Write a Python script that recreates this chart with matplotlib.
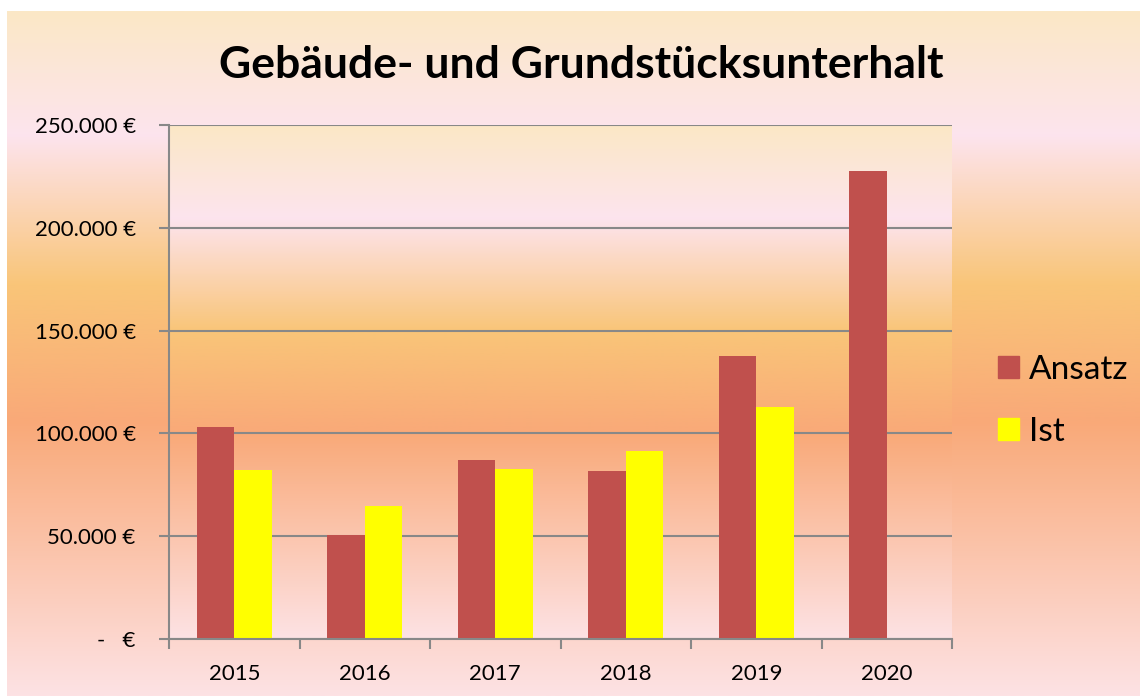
import numpy as np
import matplotlib
matplotlib.use('Agg')
import matplotlib.pyplot as plt
from matplotlib.colors import LinearSegmentedColormap
from matplotlib.patches import Patch

years = ['2015', '2016', '2017', '2018', '2019', '2020']
ansatz = [103000, 50500, 87000, 81500, 137500, 227500]
ist = [82000, 64500, 82500, 91500, 113000, 0]

title = 'Gebäude- und Grundstücksunterhalt'
y_ticks = [0, 50000, 100000, 150000, 200000, 250000]

plt.rcParams['font.family'] = ['Lato', 'DejaVu Sans']

# background gradient (top -> bottom)
bg = LinearSegmentedColormap.from_list('sunset', [
    (0.0, '#FBE8C6'),
    (0.18, '#FDE4EE'),
    (0.40, '#F9C578'),
    (0.60, '#F9A978'),
    (1.0, '#FDE2E4'),
])
grad = np.linspace(0, 1, 256).reshape(-1, 1)

fig = plt.figure(figsize=(11.4, 6.96), dpi=100)
fig.patch.set_facecolor('white')

# chart area
bg_ax = fig.add_axes([7 / 1140, 0, 1 - 7 / 1140, 1 - 11 / 696])
bg_ax.imshow(grad, aspect='auto', cmap=bg, extent=[0, 1, 0, 1])
bg_ax.axis('off')

# plot area
ax = fig.add_axes([169 / 1140, 57 / 696, 783 / 1140, 514 / 696])
ax.imshow(grad, aspect='auto', cmap=bg, extent=[-0.5, 5.5, 0, 250000], zorder=0)

x = np.arange(len(years))
w = 0.287
ax.bar(x - w / 2, ansatz, w, color='#C0504D', zorder=3, label='Ansatz')
ax.bar(x + w / 2, ist, w, color='#FFFF00', zorder=3, label='Ist')

ax.set_xlim(-0.5, 5.5)
ax.set_ylim(0, 250000)
ax.set_yticks(y_ticks)
ax.set_yticklabels(['-   €' if v == 0 else f'{v:,.0f} €'.replace(',', '.') for v in y_ticks],
                   fontsize=16)
ax.yaxis.grid(True, color='#888888', linewidth=1.5, zorder=1)
ax.set_axisbelow(False)

ax.set_xticks(x)
ax.set_xticklabels(years, fontsize=16)
ax.set_xticks(np.arange(-0.5, 6, 1), minor=True)
ax.tick_params(axis='x', which='major', length=0, pad=18)
ax.tick_params(axis='x', which='minor', length=7, width=1.5, color='#888888')
ax.tick_params(axis='y', length=7, width=1.5, color='#888888', pad=17)

for s in ['top', 'right']:
    ax.spines[s].set_visible(False)
for s in ['left', 'bottom']:
    ax.spines[s].set_color('#888888')
    ax.spines[s].set_linewidth(1.5)
    ax.spines[s].set_zorder(4)

fig.text(581 / 1140, 1 - 65 / 696, title, ha='center', va='center',
         fontsize=32, fontweight='bold')

handles = [Patch(color='#C0504D', label='Ansatz'), Patch(color='#FFFF00', label='Ist')]
fig.legend(handles=handles, loc='center left', bbox_to_anchor=(998 / 1140, 1 - 401 / 696),
           frameon=False, fontsize=24, handlelength=0.64, handleheight=0.64,
           handletextpad=0.3, labelspacing=0.95, borderpad=0, borderaxespad=0)

fig.savefig('out.png', dpi=100)
